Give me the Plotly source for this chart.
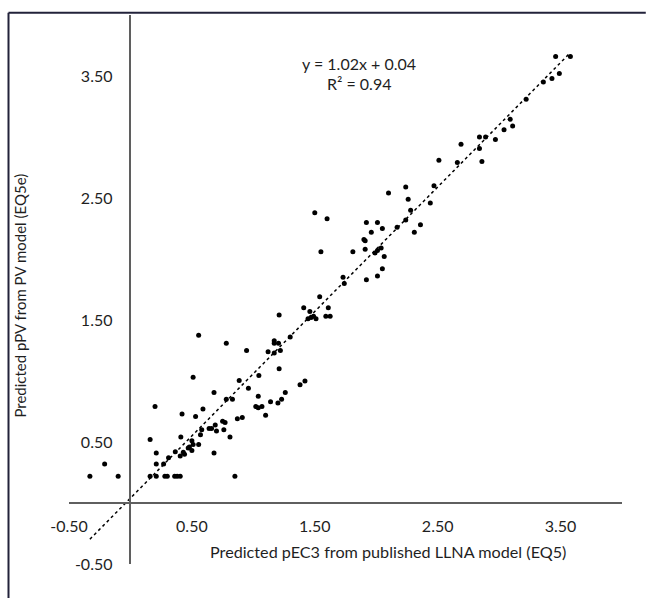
import plotly.graph_objects as go

# ---- data ----
x_vals = [
    -0.33, -0.10, 0.16, 0.21, 0.28, 0.30, 0.36, 0.38, 0.405, 0.85, -0.21,
    0.20, 0.42, 0.53, 0.59, 0.16, 0.21, 0.21, 0.27, 0.31, 0.365, 0.41, 0.405,
    0.43, 0.44, 0.47, 0.48, 0.50, 0.51, 0.50, 0.555, 0.57, 0.58, 0.64, 0.66,
    0.69, 0.70, 0.75, 0.77, 0.76, 0.68, 0.81, 0.87, 0.91, 1.02, 1.04, 1.07,
    1.10, 1.14, 1.20, 1.23, 0.78, 0.83,
    0.555, 0.78, 0.945, 1.21, 1.41, 1.46, 1.49, 1.51, 1.445, 1.47, 1.59, 1.625,
    1.61, 1.17, 1.17, 1.205, 1.12, 1.17, 1.22, 1.30, 1.21, 0.51, 0.885, 1.045,
    0.68, 0.96, 1.04, 1.26, 1.38, 1.42,
    1.54, 1.50, 1.60, 1.55, 1.73, 1.74, 1.81, 1.92, 2.01, 1.96, 2.05, 1.91,
    1.90, 1.91, 1.99, 2.01, 2.04, 2.065, 2.05, 2.01, 1.92, 2.10, 2.24, 2.26,
    2.28, 2.24, 2.17, 2.36, 2.31, 2.44, 2.47,
    2.51, 2.66, 2.86, 2.69, 2.84, 2.84, 2.89, 2.97, 3.04, 3.09, 3.11, 3.22,
    3.36, 3.43, 3.49, 3.46, 3.58,
]
y_vals = [
    0.22, 0.22, 0.22, 0.22, 0.22, 0.22, 0.22, 0.22, 0.22, 0.22, 0.32,
    0.79, 0.73, 0.71, 0.77, 0.52, 0.41, 0.32, 0.32, 0.37, 0.42, 0.54, 0.385,
    0.415, 0.40, 0.45, 0.46, 0.43, 0.48, 0.51, 0.48, 0.56, 0.60, 0.61, 0.61,
    0.64, 0.59, 0.67, 0.66, 0.60, 0.41, 0.54, 0.69, 0.70, 0.79, 0.78, 0.79,
    0.72, 0.83, 0.82, 0.85, 0.85, 0.85,
    1.375, 1.31, 1.25, 1.54, 1.60, 1.57, 1.53, 1.51, 1.51, 1.52, 1.53, 1.53,
    1.60, 1.33, 1.31, 1.31, 1.24, 1.23, 1.25, 1.36, 1.10, 1.03, 1.005, 1.045,
    0.905, 0.94, 0.875, 0.905, 0.97, 1.00,
    1.69, 2.38, 2.33, 2.06, 1.85, 1.80, 2.06, 2.30, 2.30, 2.22, 2.25, 2.15,
    2.16, 2.08, 2.05, 2.07, 2.09, 2.02, 1.92, 1.86, 1.83, 2.54, 2.59, 2.49,
    2.40, 2.32, 2.26, 2.28, 2.22, 2.46, 2.60,
    2.81, 2.79, 2.80, 2.94, 2.905, 3.00, 3.00, 2.98, 3.06, 3.145, 3.09, 3.31,
    3.45, 3.48, 3.52, 3.66, 3.66,
]
tick_vals = [-0.5, 0.5, 1.5, 2.5, 3.5]
tick_text = ["-0.50", "0.50", "1.50", "2.50", "3.50"]
slope = 1.02
intercept = 0.04
r_squared = 0.94
trend_x = [-0.33, 3.58]

x_title = "Predicted pEC3 from published LLNA model (EQ5)"
y_title = "Predicted pPV from PV model (EQ5e)"

FONT = "Lato"
FS = 16
TXT = "#1f1f1f"
AX = "#5f5f5f"

fig = go.Figure()
fig.add_trace(go.Scatter(
    x=trend_x, y=[slope * v + intercept for v in trend_x], mode="lines",
    line=dict(color="black", width=1.5, dash="dot"), hoverinfo="skip",
    showlegend=False))
fig.add_trace(go.Scatter(
    x=x_vals, y=y_vals, mode="markers",
    marker=dict(color="black", size=5), showlegend=False))

pos0 = 0.5 / 4.5
fig.update_layout(
    width=646, height=598,
    margin=dict(l=69, r=24, t=15, b=34, autoexpand=False),
    paper_bgcolor="white", plot_bgcolor="white",
    font=dict(family=FONT, size=FS, color=TXT),
    xaxis=dict(range=[-0.5, 4.0], tickvals=tick_vals, ticktext=tick_text,
               showgrid=False, zeroline=False, showline=True, linecolor=AX,
               linewidth=1.5, anchor="free", position=pos0, ticks="",
               automargin=False,
               ticklabelstandoff=9, tickfont=dict(size=FS, color=TXT)),
    yaxis=dict(range=[-0.5, 4.0], tickvals=tick_vals, ticktext=tick_text,
               showgrid=False, zeroline=False, showline=True, linecolor=AX,
               linewidth=1.5, anchor="free", position=pos0, ticks="",
               automargin=False,
               ticklabelstandoff=14, tickfont=dict(size=FS, color=TXT)),
    shapes=[
        dict(type="line", xref="paper", yref="paper", x0=-0.1094, x1=-0.1094,
             y0=-0.07, y1=1.0042, line=dict(color="#22223a", width=2)),
        dict(type="line", xref="paper", yref="paper", x0=-0.1094, x1=1.043,
             y0=1.0042, y1=1.0042, line=dict(color="#22223a", width=2)),
    ],
    annotations=[
        dict(x=1.86, y=3.606, xref="x", yref="y", showarrow=False,
             text=f"y = {slope:.2f}x + {intercept:.2f}", font=dict(size=FS, color=TXT)),
        dict(x=1.86, y=3.436, xref="x", yref="y", showarrow=False,
             text=f"R² = {r_squared:.2f}", font=dict(size=FS, color=TXT)),
        dict(x=2.093, y=-0.40, xref="x", yref="y", showarrow=False,
             xanchor="center", yanchor="middle",
             text=x_title, font=dict(size=16.2, color=TXT)),
        dict(x=-0.0886, y=1.70, xref="paper", yref="y", showarrow=False,
             xanchor="center", yanchor="middle",
             text=y_title, textangle=-90, font=dict(size=15, color=TXT)),
    ],
)

fig.write_html(
    "out.html",
    config={"displayModeBar": False},
    post_script="document.body.style.margin='0';document.body.style.overflow='hidden';",
)
